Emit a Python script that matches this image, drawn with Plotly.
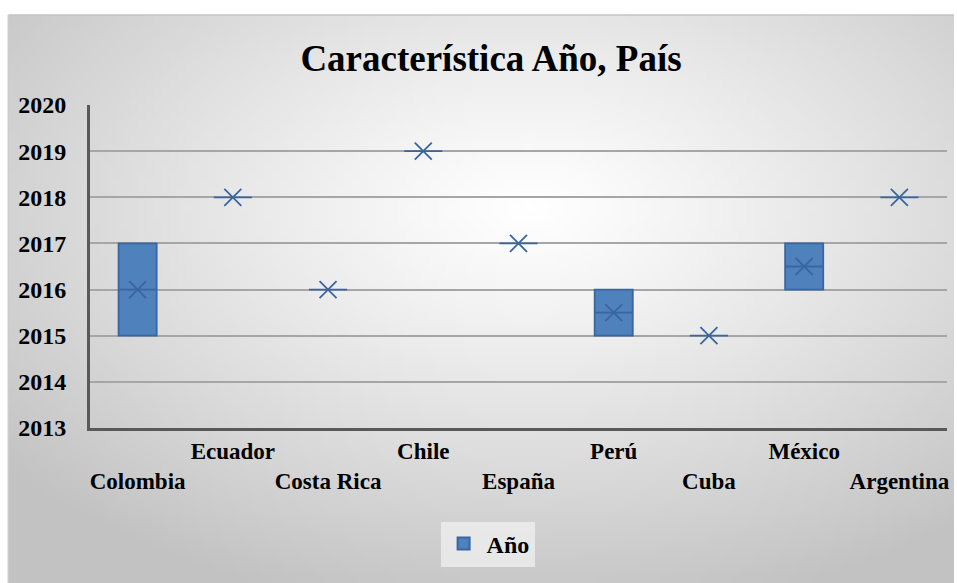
import base64, struct, zlib
import plotly.graph_objects as go

# ---------------- data ----------------
countries = ["Colombia", "Ecuador", "Costa Rica", "Chile", "España",
             "Perú", "Cuba", "México", "Argentina"]
q1_vals = [2015, 2018, 2016, 2019, 2017, 2015, 2015, 2016, 2018]
median_vals = [2016, 2018, 2016, 2019, 2017, 2015.5, 2015, 2016.5, 2018]
q3_vals = [2017, 2018, 2016, 2019, 2017, 2016, 2015, 2017, 2018]
mean_vals = [2016, 2018, 2016, 2019, 2017, 2015.5, 2015, 2016.5, 2018]
y_ticks = [2013, 2014, 2015, 2016, 2017, 2018, 2019, 2020]
series_name = "Año"
title_text = "Característica Año, País"

# staggered category labels (Excel style)
tick_text = [("<br>" + c) if i % 2 == 0 else c for i, c in enumerate(countries)]

# ---------------- background gradient png ----------------
def gradient_png(w, h, cx, cy, c_in=255, c_out=194):
    rows = []
    for j in range(h):
        row = bytearray([0])
        for i in range(w):
            dx = (i + 0.5 - cx * w) / (w / 2)
            dy = (j + 0.5 - cy * h) / (h / 2)
            t = min(1.0, (dx * dx + dy * dy) ** 0.5 / 1.45)
            v = int(round(c_in - (c_in - c_out) * t ** 1.15))
            row += bytes([v, v, v])
        rows.append(bytes(row))
    raw = b"".join(rows)

    def chunk(tag, data):
        c = struct.pack(">I", len(data)) + tag + data
        return c + struct.pack(">I", zlib.crc32(tag + data) & 0xffffffff)

    png = b"\x89PNG\r\n\x1a\n"
    png += chunk(b"IHDR", struct.pack(">IIBBBBB", w, h, 8, 2, 0, 0, 0))
    png += chunk(b"IDAT", zlib.compress(raw, 9))
    png += chunk(b"IEND", b"")
    return "data:image/png;base64," + base64.b64encode(png).decode()

W, H = 957, 583
L, R, T, B = 90, 7, 105, 155
pw, ph = W - L - R, H - T - B

def px_x(px):
    return (px - L) / pw

def px_y(py):
    return (H - B - py) / ph

bg = gradient_png(120, 74, 0.55, 0.34)

FONT = "'Liberation Serif', 'Times New Roman', 'DejaVu Serif', serif"
BLUE_FILL = "#4f81bd"
BLUE_LINE = "#3a669f"

fig = go.Figure()

fig.add_trace(go.Box(
    x=countries,
    q1=q1_vals, median=median_vals, q3=q3_vals,
    lowerfence=q1_vals, upperfence=q3_vals,
    name=series_name,
    fillcolor=BLUE_FILL,
    line=dict(color=BLUE_LINE, width=1.8),
    width=0.4,
    whiskerwidth=0,
    boxpoints=False,
    hoverinfo="skip",
    showlegend=True,
))

fig.add_trace(go.Scatter(
    x=countries, y=mean_vals, mode="markers",
    marker=dict(symbol="x-thin", size=17,
                line=dict(color=BLUE_LINE, width=1.8), color=BLUE_LINE),
    showlegend=False, hoverinfo="skip",
))

# invisible trace to carry the gridline axis
fig.add_trace(go.Scatter(x=[countries[0]], y=[y_ticks[0]], yaxis="y2",
                         mode="markers", marker=dict(opacity=0),
                         showlegend=False, hoverinfo="skip"))

fig.update_layout(
    width=W, height=H,
    margin=dict(l=L, r=R, t=T, b=B),
    paper_bgcolor="white",
    plot_bgcolor="rgba(0,0,0,0)",
    font=dict(family=FONT, color="black"),
    title=dict(text="<b>" + title_text + "</b>", x=491 / W, xanchor="center",
               y=1 - 58 / H, yanchor="middle", xref="container",
               font=dict(family=FONT, size=37, color="black")),
    xaxis=dict(
        type="category", categoryorder="array", categoryarray=countries,
        range=[-0.5, len(countries) - 0.5],
        tickmode="array", tickvals=countries, ticktext=tick_text,
        tickangle=0,
        showgrid=False, zeroline=False,
        showline=True, linecolor="#595959", linewidth=3,
        ticks="", tickfont=dict(family=FONT, size=23, color="black", weight="bold"),
        ticklabelstandoff=0,
    ),
    yaxis=dict(
        range=[y_ticks[0], y_ticks[-1]],
        tickmode="array", tickvals=y_ticks,
        showgrid=False, zeroline=False,
        showline=True, linecolor="#595959", linewidth=3,
        ticks="", tickfont=dict(family=FONT, size=24, color="black", weight="bold"),
        ticklabelstandoff=16,
    ),
    yaxis2=dict(
        overlaying="y", range=[y_ticks[0], y_ticks[-1]],
        tickmode="array", tickvals=y_ticks[1:-1],
        showgrid=True, gridcolor="#a6a6a6", gridwidth=2,
        showticklabels=False, zeroline=False, showline=False, ticks="",
        layer="below traces",
    ),
    legend=dict(
        x=px_x(489), y=px_y(544), xanchor="center", yanchor="middle",
        bgcolor="rgba(240,240,240,0.75)",
        font=dict(family=FONT, size=24, color="black", weight="bold"),
        itemsizing="constant", itemwidth=36,
    ),
    images=[dict(
        source=bg, xref="paper", yref="paper",
        x=px_x(8), y=px_y(15), sizex=(W - 8) / pw, sizey=(H - 15) / ph,
        xanchor="left", yanchor="top", sizing="stretch", layer="below",
    )],
    shapes=[dict(
        type="line", xref="paper", yref="paper",
        x0=px_x(8), x1=px_x(W), y0=px_y(15), y1=px_y(15),
        line=dict(color="#c4c4c4", width=1.5), layer="below",
    ), dict(
        type="line", xref="paper", yref="paper",
        x0=px_x(8), x1=px_x(8), y0=px_y(15), y1=px_y(H),
        line=dict(color="#cccccc", width=1.5), layer="below",
    )],
    showlegend=True,
)

fig.write_html(
    "out.html",
    config={"displayModeBar": False},
    post_script="document.body.style.margin='0';"
                "document.documentElement.style.overflow='hidden';",
)
